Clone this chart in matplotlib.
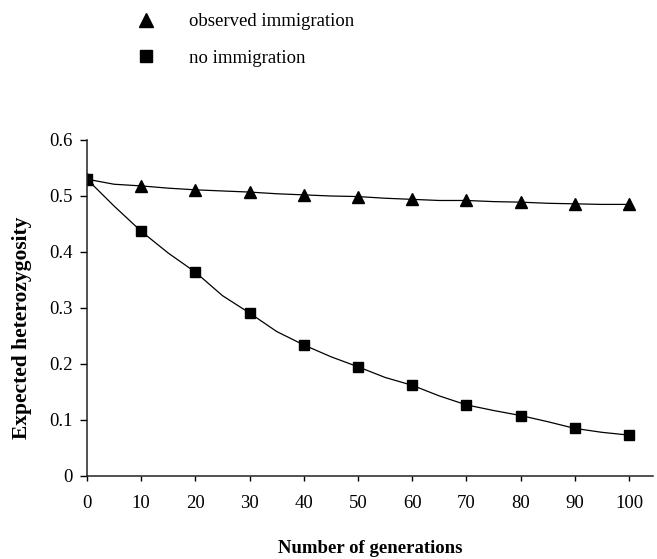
import matplotlib
matplotlib.use("Agg")
import matplotlib.pyplot as plt
from matplotlib.lines import Line2D

plt.rcParams['font.family'] = ['Liberation Serif', 'DejaVu Serif']

generations = [0, 5, 10, 15, 20, 25, 30, 35, 40, 45, 50, 55, 60, 65, 70, 75, 80, 85, 90, 95, 100]
observed_immigration = [0.530, 0.521, 0.518, 0.514, 0.511, 0.509, 0.507, 0.504, 0.502, 0.500, 0.499,
                        0.496, 0.494, 0.492, 0.492, 0.490, 0.489, 0.487, 0.486, 0.485, 0.485]
no_immigration = [0.530, 0.482, 0.437, 0.398, 0.364, 0.322, 0.291, 0.258, 0.234, 0.213, 0.195,
                  0.176, 0.162, 0.143, 0.127, 0.117, 0.108, 0.097, 0.085, 0.078, 0.073]
x_ticks = [0, 10, 20, 30, 40, 50, 60, 70, 80, 90, 100]
y_ticks = [0, 0.1, 0.2, 0.3, 0.4, 0.5, 0.6]
y_tick_labels = ['0', '0.1', '0.2', '0.3', '0.4', '0.5', '0.6']
labels = ['observed immigration', 'no immigration']

W, H = 657, 559
fig = plt.figure(figsize=(W / 100, H / 100), dpi=100)
ax = fig.add_axes([87 / W, (H - 476) / H, (653 - 87) / W, (476 - 140) / H])

ax.plot(generations, observed_immigration, color='black', lw=0.9,
        marker='^', markersize=8.5, markevery=2, markerfacecolor='black', markeredgecolor='black')
ax.plot(generations, no_immigration, color='black', lw=0.9,
        marker='s', markersize=7.8, markevery=2, markerfacecolor='black', markeredgecolor='black')

ax.set_xlim(0, 100 * (653 - 87) / (629 - 87))
ax.set_ylim(0, 0.6)
ax.set_xticks(x_ticks)
ax.set_yticks(y_ticks)
ax.set_yticklabels(y_tick_labels)

for s in ['top', 'right']:
    ax.spines[s].set_visible(False)
for s in ['left', 'bottom']:
    ax.spines[s].set_linewidth(1.1)
    ax.spines[s].set_color('#222222')

ax.tick_params(axis='y', direction='out', length=5, width=1.0, pad=5.5, labelsize=13.5)
ax.tick_params(axis='x', direction='out', length=3.5, width=1.0, pad=10.5, labelsize=13.5)

ax.set_xlabel('Number of generations', fontsize=13.5, fontweight='bold')
ax.set_ylabel('Expected heterozygosity', fontsize=15.5, fontweight='bold')
ax.xaxis.set_label_coords(0.5, -0.19)
ax.yaxis.set_label_coords(-0.0963, 0.44)

handles = [Line2D([], [], linestyle='none', marker='^', markersize=10.5, color='black'),
           Line2D([], [], linestyle='none', marker='s', markersize=9, color='black')]
fig.legend(handles, labels, loc='upper left', bbox_to_anchor=(136.6 / W, 1 - 13 / H),
           frameon=False, fontsize=13.5, handlelength=1.0, handletextpad=1.8,
           borderpad=0, borderaxespad=0, labelspacing=1.05)

fig.savefig('out.png', dpi=100)
